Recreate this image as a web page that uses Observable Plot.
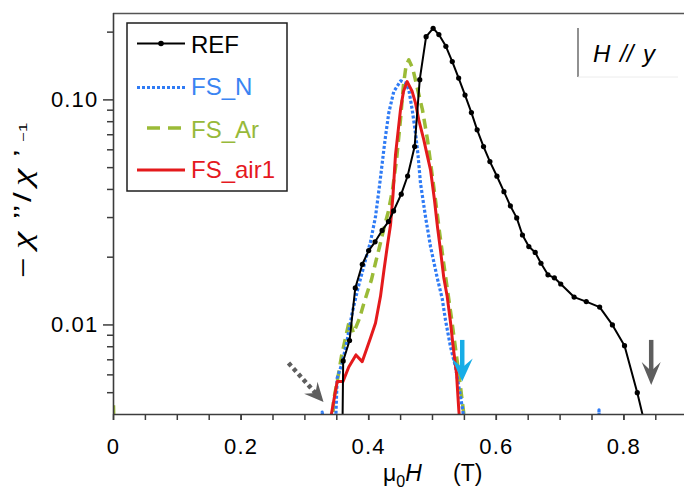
<!DOCTYPE html>
<html><head><meta charset="utf-8">
<script src="https://cdn.jsdelivr.net/npm/d3@7"></script>
<script src="https://cdn.jsdelivr.net/npm/@observablehq/plot@0.6"></script>
<style>
body{margin:0;background:#fff;}
#wrap{position:relative;width:684px;height:493px;overflow:hidden;background:#fff;}
#wrap > svg{position:absolute;left:0;top:0;}
g[aria-label="x-axis tick label"] text, g[aria-label="y-axis tick label"] text{letter-spacing:1.2px;}
</style></head><body><div id="wrap"></div>
<script>
// ---------- data ----------
const seriesNames  = ["REF", "FS_N", "FS_Ar", "FS_air1"];
const seriesColors = ["#000000", "#2f7bf5", "#9bbb37", "#e41a1c"];
const legendTextColors = ["#000000", "#3a84f2", "#97b93a", "#e5191f"];

const REF_x = [0.358, 0.360, 0.370, 0.379, 0.390, 0.400, 0.410, 0.421, 0.431, 0.439, 0.451, 0.461, 0.472, 0.480, 0.490, 0.501, 0.510, 0.521, 0.531, 0.541, 0.551, 0.561, 0.570, 0.580, 0.590, 0.601, 0.612, 0.622, 0.632, 0.641, 0.651, 0.661, 0.670, 0.681, 0.691, 0.701, 0.722, 0.741, 0.762, 0.782, 0.801, 0.821, 0.841];
const REF_y = [0.002, 0.00692, 0.00853, 0.0146, 0.0186, 0.0214, 0.0234, 0.0263, 0.0288, 0.0321, 0.0381, 0.0459, 0.062, 0.123, 0.191, 0.208, 0.195, 0.173, 0.148, 0.125, 0.105, 0.0878, 0.0736, 0.062, 0.0532, 0.0458, 0.0391, 0.0338, 0.0299, 0.0251, 0.0223, 0.0210, 0.0188, 0.0167, 0.0162, 0.0152, 0.0133, 0.0127, 0.0120, 0.0100, 0.00809, 0.0050, 0.0029];

const FSN_x = [0.320, 0.327, 0.345, 0.3506, 0.3585, 0.3663, 0.3741, 0.383, 0.395, 0.4028, 0.4107, 0.4174, 0.4237, 0.4263, 0.4315, 0.4393, 0.450, 0.4577, 0.4629, 0.4682, 0.4734, 0.477, 0.4812, 0.489, 0.4969, 0.5074, 0.5152, 0.5204, 0.5282, 0.536, 0.5412, 0.5478, 0.556, 0.758, 0.761, 0.764];
const FSN_y = [0.002, 0.0041, 0.002, 0.00581, 0.00678, 0.00858, 0.0113, 0.0145, 0.01945, 0.0234, 0.0303, 0.0426, 0.060, 0.0687, 0.0876, 0.1089, 0.1215, 0.119, 0.1108, 0.0903, 0.0711, 0.058, 0.0426, 0.0303, 0.0223, 0.0162, 0.0131, 0.0105, 0.0080, 0.00653, 0.00532, 0.00413, 0.002, 0.001, 0.0042, 0.001];

const FSAr_x = [0, 0.004, 0.338, 0.3448, 0.3511, 0.3574, 0.3636, 0.3699, 0.3762, 0.3856, 0.3918, 0.3981, 0.4044, 0.4107, 0.4169, 0.4232, 0.431, 0.4373, 0.4436, 0.4498, 0.4545, 0.4585, 0.4629, 0.469, 0.475, 0.4843, 0.4922, 0.4984, 0.5047, 0.511, 0.5172, 0.5235, 0.5298, 0.536, 0.5415, 0.547, 0.5502, 0.556];
const FSAr_y = [0.0044, 0.001, 0.001, 0.0046, 0.0057, 0.00728, 0.00875, 0.0105, 0.0092, 0.0107, 0.0123, 0.0140, 0.0159, 0.0189, 0.0222, 0.0264, 0.0321, 0.0398, 0.0541, 0.0815, 0.1166, 0.1416, 0.1506, 0.138, 0.1166, 0.0903, 0.0664, 0.0489, 0.0359, 0.0259, 0.0191, 0.0143, 0.0107, 0.0079, 0.0060, 0.0045, 0.0038, 0.002];

const FSair_x = [0.326, 0.3506, 0.3596, 0.3688, 0.380, 0.3898, 0.4028, 0.4107, 0.4185, 0.424, 0.4295, 0.4342, 0.4381, 0.442, 0.4467, 0.4498, 0.4545, 0.4603, 0.4682, 0.4734, 0.4785, 0.4864, 0.4922, 0.4969, 0.5031, 0.5078, 0.5125, 0.5177, 0.523, 0.5282, 0.5324, 0.5376, 0.5412, 0.5439];
const FSair_y = [0.00227, 0.0056, 0.0056, 0.0065, 0.00736, 0.00687, 0.00875, 0.0102, 0.0134, 0.0176, 0.0227, 0.0278, 0.0378, 0.057, 0.0751, 0.0903, 0.1089, 0.1206, 0.1089, 0.0967, 0.0815, 0.0664, 0.056, 0.0489, 0.0359, 0.0273, 0.0215, 0.0162, 0.0134, 0.0103, 0.0080, 0.0061, 0.0042, 0.0034];

const xDomain = [0, 0.895];
const yDomain = [0.004, 0.242];
const xTicksAll = [0, 0.05, 0.1, 0.15, 0.2, 0.25, 0.3, 0.35, 0.4, 0.45, 0.5, 0.55, 0.6, 0.65, 0.7, 0.75, 0.8, 0.85];
const xTickLabelValues = [0, 0.2, 0.4, 0.6, 0.8];
const xTickLabels = ["0", "0.2", "0.4", "0.6", "0.8"];
const yTicksMinor = [0.005, 0.006, 0.007, 0.008, 0.009, 0.02, 0.03, 0.04, 0.05, 0.06, 0.07, 0.08, 0.09, 0.2];
const yTickLabelValues = [0.01, 0.1];
const yTickLabels = ["0.01", "0.10"];

// annotation arrows (data units): start and tip
const arrowX1 = [0.2743, 0.5466, 0.8428];
const arrowY1 = [0.00678, 0.00858, 0.00858];
const arrowX2 = [0.3292, 0.5466, 0.8428];
const arrowY2 = [0.00455, 0.0056, 0.00541];
const arrowColors = ["#5e5e5e", "#18ade6", "#5e5e5e"];

// ---------- build ----------
const FONT = "'Liberation Sans', Arial, Helvetica, sans-serif";
const SERIF = "'Liberation Serif', 'Times New Roman', serif";
const toRows = (xs, ys) => xs.map((x, i) => ({x, y: ys[i]}));
const refData = toRows(REF_x, REF_y);
const fsnData = toRows(FSN_x, FSN_y);
const fsarData = toRows(FSAr_x, FSAr_y);
const fsairData = toRows(FSair_x, FSair_y);

// arrow-head symbol with fixed pixel size (tip at the anchor point)
function headSymbol(angleDeg, L, w, n) {
  const t = angleDeg * Math.PI / 180, c = Math.cos(t), s = Math.sin(t);
  return {
    draw(ctx) {
      const pts = [[0, 0], [-w, -L], [0, -n], [w, -L]];
      pts.forEach(([x, y], i) => {
        const X = x * c + y * s, Y = -x * s + y * c;
        if (i === 0) ctx.moveTo(X, Y); else ctx.lineTo(X, Y);
      });
      ctx.closePath();
    }
  };
}
const headShapes = [[42, 19, 9, 12], [0, 23, 10.5, 14], [0, 23, 9.5, 14]];
const shaftDash = ["4 3.4", null, null];
const shaftInset = [10, 12, 12];

const arrowMarks = [];
arrowX1.forEach((_, i) => {
  const d = [{x1: arrowX1[i], y1: arrowY1[i], x2: arrowX2[i], y2: arrowY2[i]}];
  arrowMarks.push(Plot.arrow(d, {x1: "x1", y1: "y1", x2: "x2", y2: "y2", stroke: arrowColors[i], strokeWidth: 4.5, headLength: 0, insetEnd: shaftInset[i], strokeDasharray: shaftDash[i] || undefined, strokeLinecap: "butt"}));
  arrowMarks.push(Plot.dot(d, {x: "x2", y: "y2", symbol: headSymbol(...headShapes[i]), r: 5, fill: arrowColors[i], stroke: "none"}));
});

const axisColor = "#3c3c3c";
const plot = Plot.plot({
  width: 684, height: 493,
  marginLeft: 113, marginRight: 0, marginTop: 13, marginBottom: 79,
  x: {domain: xDomain, label: null},
  y: {type: "log", domain: yDomain, label: null},
  style: {fontFamily: FONT, fontSize: "22px", color: "#000", background: "transparent", overflow: "visible"},
  marks: [
    Plot.ruleY([yDomain[1]], {stroke: "#555", strokeWidth: 1.6}),
    Plot.line(fsarData, {x: "x", y: "y", stroke: seriesColors[2], strokeWidth: 3.5, strokeDasharray: "10 6", strokeLinecap: "butt", clip: true}),
    Plot.line(fsnData, {x: "x", y: "y", stroke: seriesColors[1], strokeWidth: 3.2, strokeDasharray: "3 2", strokeLinecap: "butt", clip: true}),
    Plot.line(fsairData, {x: "x", y: "y", stroke: seriesColors[3], strokeWidth: 3, clip: true}),
    Plot.line(refData, {x: "x", y: "y", stroke: seriesColors[0], strokeWidth: 2, clip: true}),
    Plot.dot(refData, {x: "x", y: "y", r: 2.6, fill: seriesColors[0], stroke: "none", clip: true}),
    ...arrowMarks,
    Plot.axisX(xTicksAll, {tickSize: 6, tickFormat: () => "", stroke: axisColor, strokeWidth: 1.5, label: null}),
    Plot.axisX(xTickLabelValues, {tickSize: 6, tickPadding: 18, tickFormat: (d) => xTickLabels[xTickLabelValues.indexOf(d)], stroke: axisColor, strokeWidth: 1.5, fill: "#000", fontSize: 22, label: null}),
    Plot.axisY(yTicksMinor, {tickSize: 6, tickFormat: () => "", stroke: axisColor, strokeWidth: 1.5, label: null}),
    Plot.axisY(yTickLabelValues, {tickSize: 10, tickPadding: 5, tickFormat: (d) => yTickLabels[yTickLabelValues.indexOf(d)], stroke: axisColor, strokeWidth: 1.5, fill: "#000", fontSize: 22, label: null}),
    Plot.ruleX([xDomain[0]], {stroke: axisColor, strokeWidth: 1.6}),
    Plot.ruleY([yDomain[0]], {stroke: axisColor, strokeWidth: 1.6})
  ]
});
const wrap = document.getElementById("wrap");
wrap.appendChild(plot);

// ---------- overlay: legend, annotation, axis titles ----------
const ov = d3.select(wrap).append("svg")
  .attr("width", 684).attr("height", 493)
  .style("font-family", FONT).style("pointer-events", "none");

// legend
ov.append("rect").attr("x", 127).attr("y", 23).attr("width", 160).attr("height", 168)
  .attr("fill", "#fff").attr("stroke", "#1e1e1e").attr("stroke-width", 1.5);
const rowY = [43.5, 87.5, 128, 170];
const textY = [53, 95, 138, 178];
const sampleStyle = [
  {w: 2, dash: null, x1: 137},
  {w: 3, dash: "3 2", x1: 137},
  {w: 3.5, dash: "13 8", x1: 147},
  {w: 3, dash: null, x1: 137}
];
seriesNames.forEach((name, i) => {
  const st = sampleStyle[i];
  const ln = ov.append("line").attr("x1", st.x1).attr("x2", 185).attr("y1", rowY[i]).attr("y2", rowY[i])
    .attr("stroke", seriesColors[i]).attr("stroke-width", st.w);
  if (st.dash) ln.attr("stroke-dasharray", st.dash);
  if (i === 0) ov.append("circle").attr("cx", 161).attr("cy", rowY[i]).attr("r", 2.8).attr("fill", "#000");
  ov.append("text").attr("x", 191).attr("y", textY[i]).attr("font-size", 24)
    .attr("fill", legendTextColors[i]).text(name);
});

// H // y annotation
ov.append("line").attr("x1", 578).attr("x2", 578).attr("y1", 28).attr("y2", 77).attr("stroke", "#555").attr("stroke-width", 1.3);
ov.append("line").attr("x1", 578).attr("x2", 678).attr("y1", 77).attr("y2", 77).attr("stroke", "#ececec").attr("stroke-width", 1);
ov.append("text").attr("x", 593).attr("y", 62).attr("font-size", 24).attr("font-style", "italic")
  .attr("word-spacing", "3px").text("H // y");

// x axis title: μ0H (T)
const xt = ov.append("text").attr("x", 383).attr("y", 481).attr("font-size", 23);
xt.append("tspan").text("μ");
xt.append("tspan").attr("font-size", 16).attr("dy", 6).text("0");
xt.append("tspan").attr("dy", -6).attr("font-style", "italic").text("H");
xt.append("tspan").attr("x", 453).text("(T)");

// y axis title: − χ'' / χ'^−1  (stretched along the text direction like the reference)
const yt = ov.append("text").attr("transform", "translate(31,278) rotate(-90) scale(1.45,1)")
  .attr("font-size", 24);
yt.append("tspan").attr("x", 0).text("−");
yt.append("tspan").attr("x", 20).attr("font-family", SERIF).attr("font-style", "italic").attr("font-size", 27).text("χ");
yt.append("tspan").attr("x", 40.5).text("’’");
yt.append("tspan").attr("x", 52.5).text("/");
yt.append("tspan").attr("x", 63.5).attr("font-family", SERIF).attr("font-style", "italic").attr("font-size", 27).text("χ");
yt.append("tspan").attr("x", 83.5).text("’");
yt.append("tspan").attr("x", 94).attr("font-size", 11.5).attr("dy", -4).text("−1");
</script></body></html>
